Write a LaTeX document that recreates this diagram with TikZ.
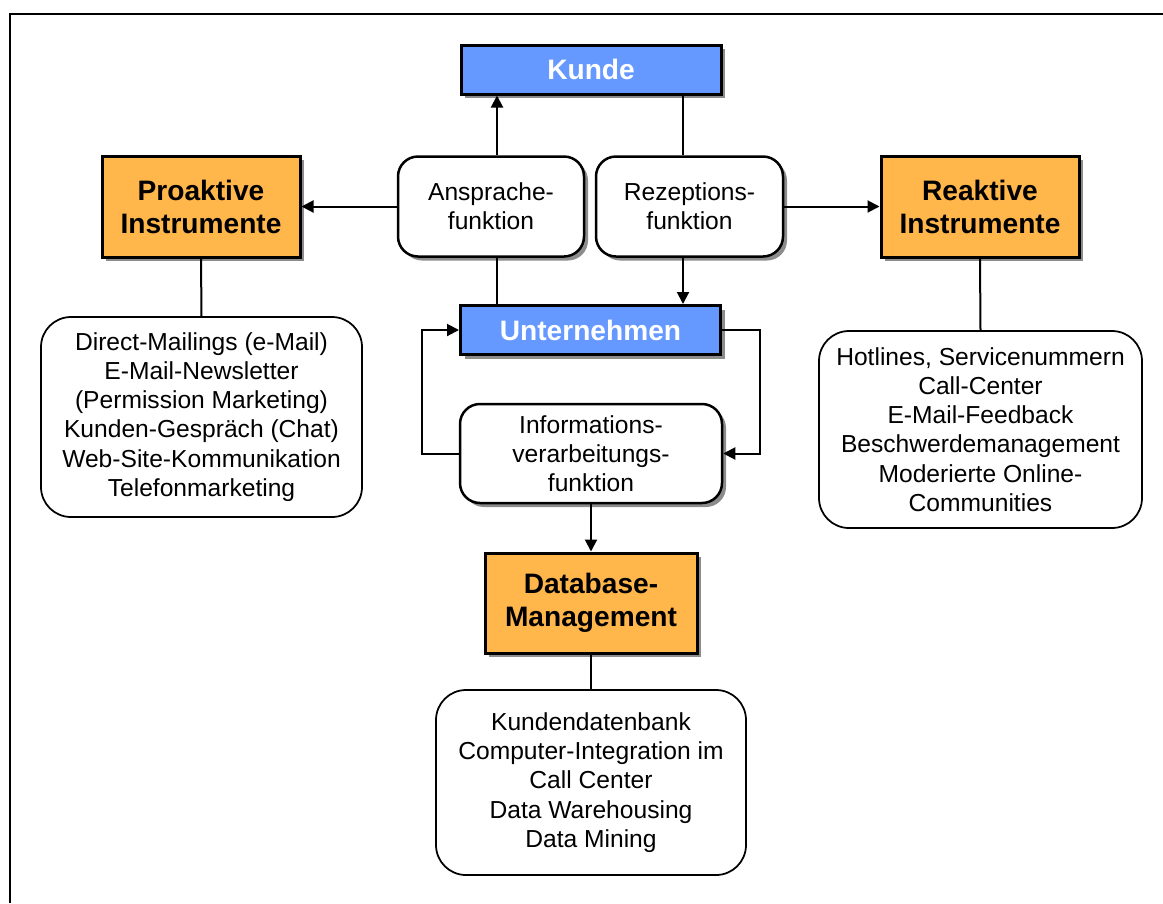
\documentclass[tikz,border=0pt]{standalone}
\usepackage{fontspec}
\setmainfont{Liberation Sans}
\usetikzlibrary{arrows.meta,shadows}
\definecolor{blaubox}{RGB}{102,153,255}
\definecolor{orangebox}{RGB}{255,182,74}
\begin{document}
\begin{tikzpicture}[
  shade/.style={drop shadow={shadow xshift=0.08cm,shadow yshift=-0.08cm,fill=black!45,opacity=1}},
  blau/.style={shade,draw,line width=0.06cm,fill=blaubox,text=white,inner sep=0pt,
    minimum width=5.2cm,minimum height=0.98cm,font=\fontsize{16}{19}\selectfont\bfseries},
  instr/.style={shade,draw,line width=0.06cm,fill=orangebox,inner sep=0pt,align=center,
    minimum height=2.02cm,font=\fontsize{16}{18.8}\selectfont\bfseries},
  funk/.style={shade,draw,line width=0.05cm,fill=white,rounded corners=0.4cm,inner sep=0pt,
    align=center,minimum height=2.0cm,font=\fontsize{14}{16.5}\selectfont},
  liste/.style={draw,line width=0.035cm,rounded corners=0.6cm,inner sep=0pt,align=center,
    font=\fontsize{14}{16.6}\selectfont},
  verb/.style={line width=0.04cm},
  pfeil/.style={verb,-{Triangle[length=0.24cm,width=0.24cm]}}]
\useasboundingbox (0,0) rectangle (23.26,-18.06);
\draw[line width=0.045cm](0.2,-18.06)--(0.2,-0.28)--(23.26,-0.28);

\node[blau](kunde) at (11.82,-1.39){Kunde};
\node[funk,minimum width=3.72cm](ansprache) at (9.82,-4.13){Ansprache-\\funktion};
\node[funk,minimum width=3.74cm](rezeption) at (13.79,-4.13){Rezeptions-\\funktion};
\node[instr,minimum width=3.96cm](proaktiv) at (4.02,-4.13){Proaktive\\Instrumente};
\node[instr,minimum width=3.96cm](reaktiv) at (19.60,-4.13){Reaktive\\Instrumente};
\node[blau](unternehmen) at (11.81,-6.60){Unternehmen};
\node[funk,minimum width=5.24cm,minimum height=1.98cm](info) at (11.82,-9.07){Informations-\\verarbeitungs-\\funktion};
\node[instr,minimum width=4.24cm,minimum height=2.0cm](database) at (11.82,-12.06){Database-\\Management};

\node[liste,minimum width=6.42cm,minimum height=4.0cm](listeL) at (4.03,-8.34)
  {Direct-Mailings (e-Mail)\\E-Mail-Newsletter\\(Permission Marketing)\\Kunden-Gespräch (Chat)\\Web-Site-Kommunikation\\Telefonmarketing};
\node[liste,minimum width=6.46cm,minimum height=3.94cm](listeR) at (19.61,-8.59)
  {Hotlines, Servicenummern\\Call-Center\\E-Mail-Feedback\\Beschwerdemanagement\\Moderierte Online-\\Communities};
\node[liste,minimum width=6.2cm,minimum height=3.7cm](listeDB) at (11.82,-15.65)
  {Kundendatenbank\\Computer-Integration im\\Call Center\\Data Warehousing\\Data Mining};

\draw[pfeil]([xshift=-1.88cm]kunde.south |- ansprache.north)--([xshift=-1.88cm]kunde.south);
\draw[verb]([xshift=1.84cm]kunde.south)--([xshift=1.84cm]kunde.south |- rezeption.north);
\draw[pfeil](ansprache.west)--(proaktiv.east);
\draw[pfeil](rezeption.east)--(reaktiv.west);
\draw[verb]([xshift=-1.88cm]kunde.south |- ansprache.south)--([xshift=-1.88cm]kunde.south |- unternehmen.north);
\draw[pfeil]([xshift=1.84cm]kunde.south |- rezeption.south)--([xshift=1.84cm]kunde.south |- unternehmen.north);
\draw[pfeil](info.west)-|([xshift=-0.74cm]unternehmen.west)--(unternehmen.west);
\draw[pfeil](unternehmen.east)-|([xshift=0.74cm]info.east)--(info.east);
\draw[pfeil](info.south)--(database.north);
\draw[verb](proaktiv.south)--(listeL.north);
\draw[verb](reaktiv.south)--(listeR.north);
\draw[verb](database.south)--(listeDB.north);
\end{tikzpicture}
\end{document}
